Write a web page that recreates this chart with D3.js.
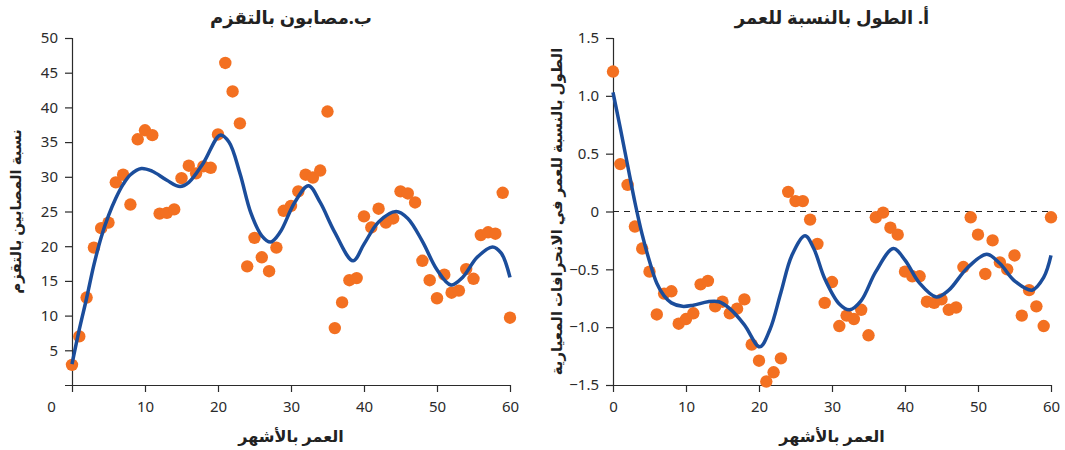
<!DOCTYPE html>
<html>
<head>
<meta charset="utf-8">
<script src="https://cdn.jsdelivr.net/npm/d3@7"></script>
<style>
  body { margin: 0; background: #fff; }
  text { font-family: "Noto Sans", "DejaVu Sans", sans-serif; }
</style>
</head>
<body>
<div id="container"></div>
<script>
// age in months (shared by both panels)
const ages = [0, 1, 2, 3, 4, 5, 6, 7, 8, 9, 10, 11, 12, 13, 14, 15, 16, 17, 18, 19, 20,
  21, 22, 23, 24, 25, 26, 27, 28, 29, 30, 31, 32, 33, 34, 35, 36, 37, 38, 39, 40,
  41, 42, 43, 44, 45, 46, 47, 48, 49, 50, 51, 52, 53, 54, 55, 56, 57, 58, 59, 60];

// panel b: percent stunted
const stuntPct = [2.9, 7.0, 12.6, 19.8, 22.6, 23.4, 29.2, 30.3, 26.0, 35.4, 36.7, 36.0,
  24.7, 24.8, 25.3, 29.8, 31.6, 30.5, 31.5, 31.3, 36.1, 46.4, 42.3, 37.7, 17.1, 21.2,
  18.4, 16.4, 19.8, 25.1, 25.8, 27.9, 30.3, 29.9, 30.9, 39.4, 8.2, 11.9, 15.1, 15.4,
  24.3, 22.7, 25.4, 23.4, 24.0, 27.9, 27.6, 26.3, 17.9, 15.1, 12.5, 15.9, 13.3, 13.6,
  16.7, 15.3, 21.6, 22.0, 21.8, 27.7, 9.7];
// smoothed fit (b)
const stuntFitX = [0, 1, 2, 3, 4, 5, 6, 7, 8, 9.5, 11, 13, 14.8, 16, 18, 20.3, 21.5, 23, 24.5,
  26, 27.2, 28.5, 30.5, 32.4, 34, 36, 38.5, 40, 42, 44.4, 46, 48, 50, 51.9, 53.5, 55.5,
  57.6, 58.8, 60];
const stuntFitY = [3.0, 8.0, 12.5, 17.3, 21.3, 24.4, 26.9, 28.9, 30.3, 31.2, 30.8, 29.5,
  28.6, 29.2, 32.0, 36.0, 35.0, 30.5, 24.8, 21.5, 20.6, 22.0, 26.3, 28.7, 26.3, 22.0,
  17.9, 20.3, 23.5, 25.0, 24.0, 20.7, 16.6, 14.4, 15.5, 18.4, 19.9, 19.0, 15.5];

// panel a: height-for-age z-score
const haz = [1.21, 0.41, 0.23, -0.13, -0.32, -0.52, -0.89, -0.71, -0.69, -0.97, -0.93,
  -0.88, -0.63, -0.60, -0.82, -0.78, -0.88, -0.84, -0.76, -1.15, -1.29, -1.47, -1.39,
  -1.27, 0.17, 0.09, 0.09, -0.07, -0.28, -0.79, -0.61, -0.99, -0.90, -0.93, -0.85, -1.07,
  -0.05, -0.01, -0.14, -0.20, -0.52, -0.56, -0.56, -0.78, -0.79, -0.76, -0.85, -0.83,
  -0.48, -0.05, -0.20, -0.54, -0.25, -0.44, -0.50, -0.38, -0.90, -0.68, -0.82, -0.99, -0.05];
// smoothed fit (a)
const hazFitX = [0, 1, 2, 3, 4, 5, 6, 7, 8, 9.5, 11, 13, 14.5, 16, 18, 20.1, 21.5, 23, 24.5,
  26.3, 27.5, 29, 31, 32.4, 34, 36, 38.4, 40, 42, 44.3, 46, 48.5, 51.2, 53, 55, 57.4, 59, 60];
const hazFitY = [1.03, 0.72, 0.40, 0.08, -0.20, -0.43, -0.62, -0.73, -0.79, -0.82, -0.81,
  -0.78, -0.78, -0.84, -0.98, -1.17, -1.02, -0.70, -0.38, -0.21, -0.32, -0.58, -0.80, -0.85,
  -0.77, -0.52, -0.32, -0.42, -0.62, -0.74, -0.68, -0.49, -0.37, -0.45, -0.60, -0.68, -0.57, -0.38];

const xTicks = [0, 10, 20, 30, 40, 50, 60];
const stuntTicks = [5, 10, 15, 20, 25, 30, 35, 40, 45, 50];
const hazTicks = [-1.5, -1.0, -0.5, 0, 0.5, 1.0, 1.5];

const titleB = 'ب.مصابون بالتقزم';
const titleA = 'أ. الطول بالنسبة للعمر';
const xLabel = 'العمر بالأشهر';
const yLabelB = 'نسبة المصابين بالتقزم';
const yLabelA = 'الطول بالنسبة للعمر في الانحرافات المعيارية';

const width = 1065, height = 450;
const dotColor = '#f37021', lineColor = '#1b4d9b', axisColor = '#2b2b2b', textColor = '#2b2b2b';

const svg = d3.select('#container').append('svg')
  .attr('width', width).attr('height', height);

function panel({x0, x1, yDomain, yTicks, yFormat, values, fitX, fitY, title, yLabel, zeroLine, xZeroShift}) {
  const top = 38, bottom = 385;
  const x = d3.scaleLinear().domain([0, 60]).range([x0, x1]);
  const y = d3.scaleLinear().domain(yDomain).range([bottom, top]);
  const g = svg.append('g');

  // y axis
  const yAxis = g.append('g')
    .attr('transform', `translate(${x0},0)`)
    .call(d3.axisLeft(y).tickValues(yTicks).tickFormat(yFormat).tickSize(7).tickPadding(7).tickSizeOuter(0));
  yAxis.select('.domain').attr('d', `M0.5,${top}V${bottom}`);

  // x axis
  const xAxis = g.append('g')
    .attr('transform', `translate(0,${bottom})`)
    .call(d3.axisBottom(x).tickValues(xTicks).tickSize(7).tickPadding(9).tickSizeOuter(0));
  xAxis.select('.domain').attr('d', `M${x0 - 7},0.5H${x1}`);
  if (xZeroShift) {
    xAxis.selectAll('.tick text').filter(d => d === 0).attr('x', -xZeroShift);
  }

  [yAxis, xAxis].forEach(a => {
    a.selectAll('path, line').attr('stroke', axisColor).attr('stroke-width', 1.2);
    a.selectAll('text').attr('fill', textColor).style('font-size', '15px');
  });

  if (zeroLine) {
    g.append('line')
      .attr('x1', x0).attr('x2', x1)
      .attr('y1', y(0)).attr('y2', y(0))
      .attr('stroke', '#222').attr('stroke-width', 1.1)
      .attr('stroke-dasharray', '6,5');
  }

  // dots
  g.append('g').selectAll('circle')
    .data(values)
    .enter()
    .append('circle')
    .attr('cx', (d, i) => x(ages[i]))
    .attr('cy', d => y(d))
    .attr('r', 6.2)
    .attr('fill', dotColor);

  // smoothed curve
  const line = d3.line()
    .x(d => x(d[0]))
    .y(d => y(d[1]))
    .curve(d3.curveCatmullRom.alpha(0.5));
  g.append('path')
    .attr('d', line(d3.zip(fitX, fitY)))
    .attr('fill', 'none')
    .attr('stroke', lineColor)
    .attr('stroke-width', 3.5)
    .attr('stroke-linejoin', 'round');

  const cx = (x0 + x1) / 2;
  g.append('text')
    .attr('x', cx).attr('y', 24)
    .attr('text-anchor', 'middle')
    .attr('font-weight', 'bold').style('font-size', '18px')
    .attr('fill', '#222').attr('direction', 'rtl')
    .text(title);

  g.append('text')
    .attr('x', cx).attr('y', 442)
    .attr('text-anchor', 'middle')
    .attr('font-weight', 'bold').style('font-size', '16px')
    .attr('fill', '#222').attr('direction', 'rtl')
    .text(xLabel);

  g.append('text')
    .attr('transform', `translate(${x0 - 51},${(top + bottom) / 2}) rotate(-90)`)
    .attr('text-anchor', 'middle')
    .attr('font-weight', 'bold').style('font-size', '15px')
    .attr('fill', '#222').attr('direction', 'rtl')
    .text(yLabel);
}

panel({
  x0: 72, x1: 510, yDomain: [0, 50], yTicks: stuntTicks, yFormat: d3.format('d'),
  values: stuntPct, fitX: stuntFitX, fitY: stuntFitY,
  title: titleB, yLabel: yLabelB, zeroLine: false, xZeroShift: 21
});

panel({
  x0: 613, x1: 1051, yDomain: [-1.5, 1.5], yTicks: hazTicks,
  yFormat: d => d === 0 ? '0' : d3.format('.1f')(d),
  values: haz, fitX: hazFitX, fitY: hazFitY,
  title: titleA, yLabel: yLabelA, zeroLine: true, xZeroShift: 0
});
</script>
</body>
</html>
